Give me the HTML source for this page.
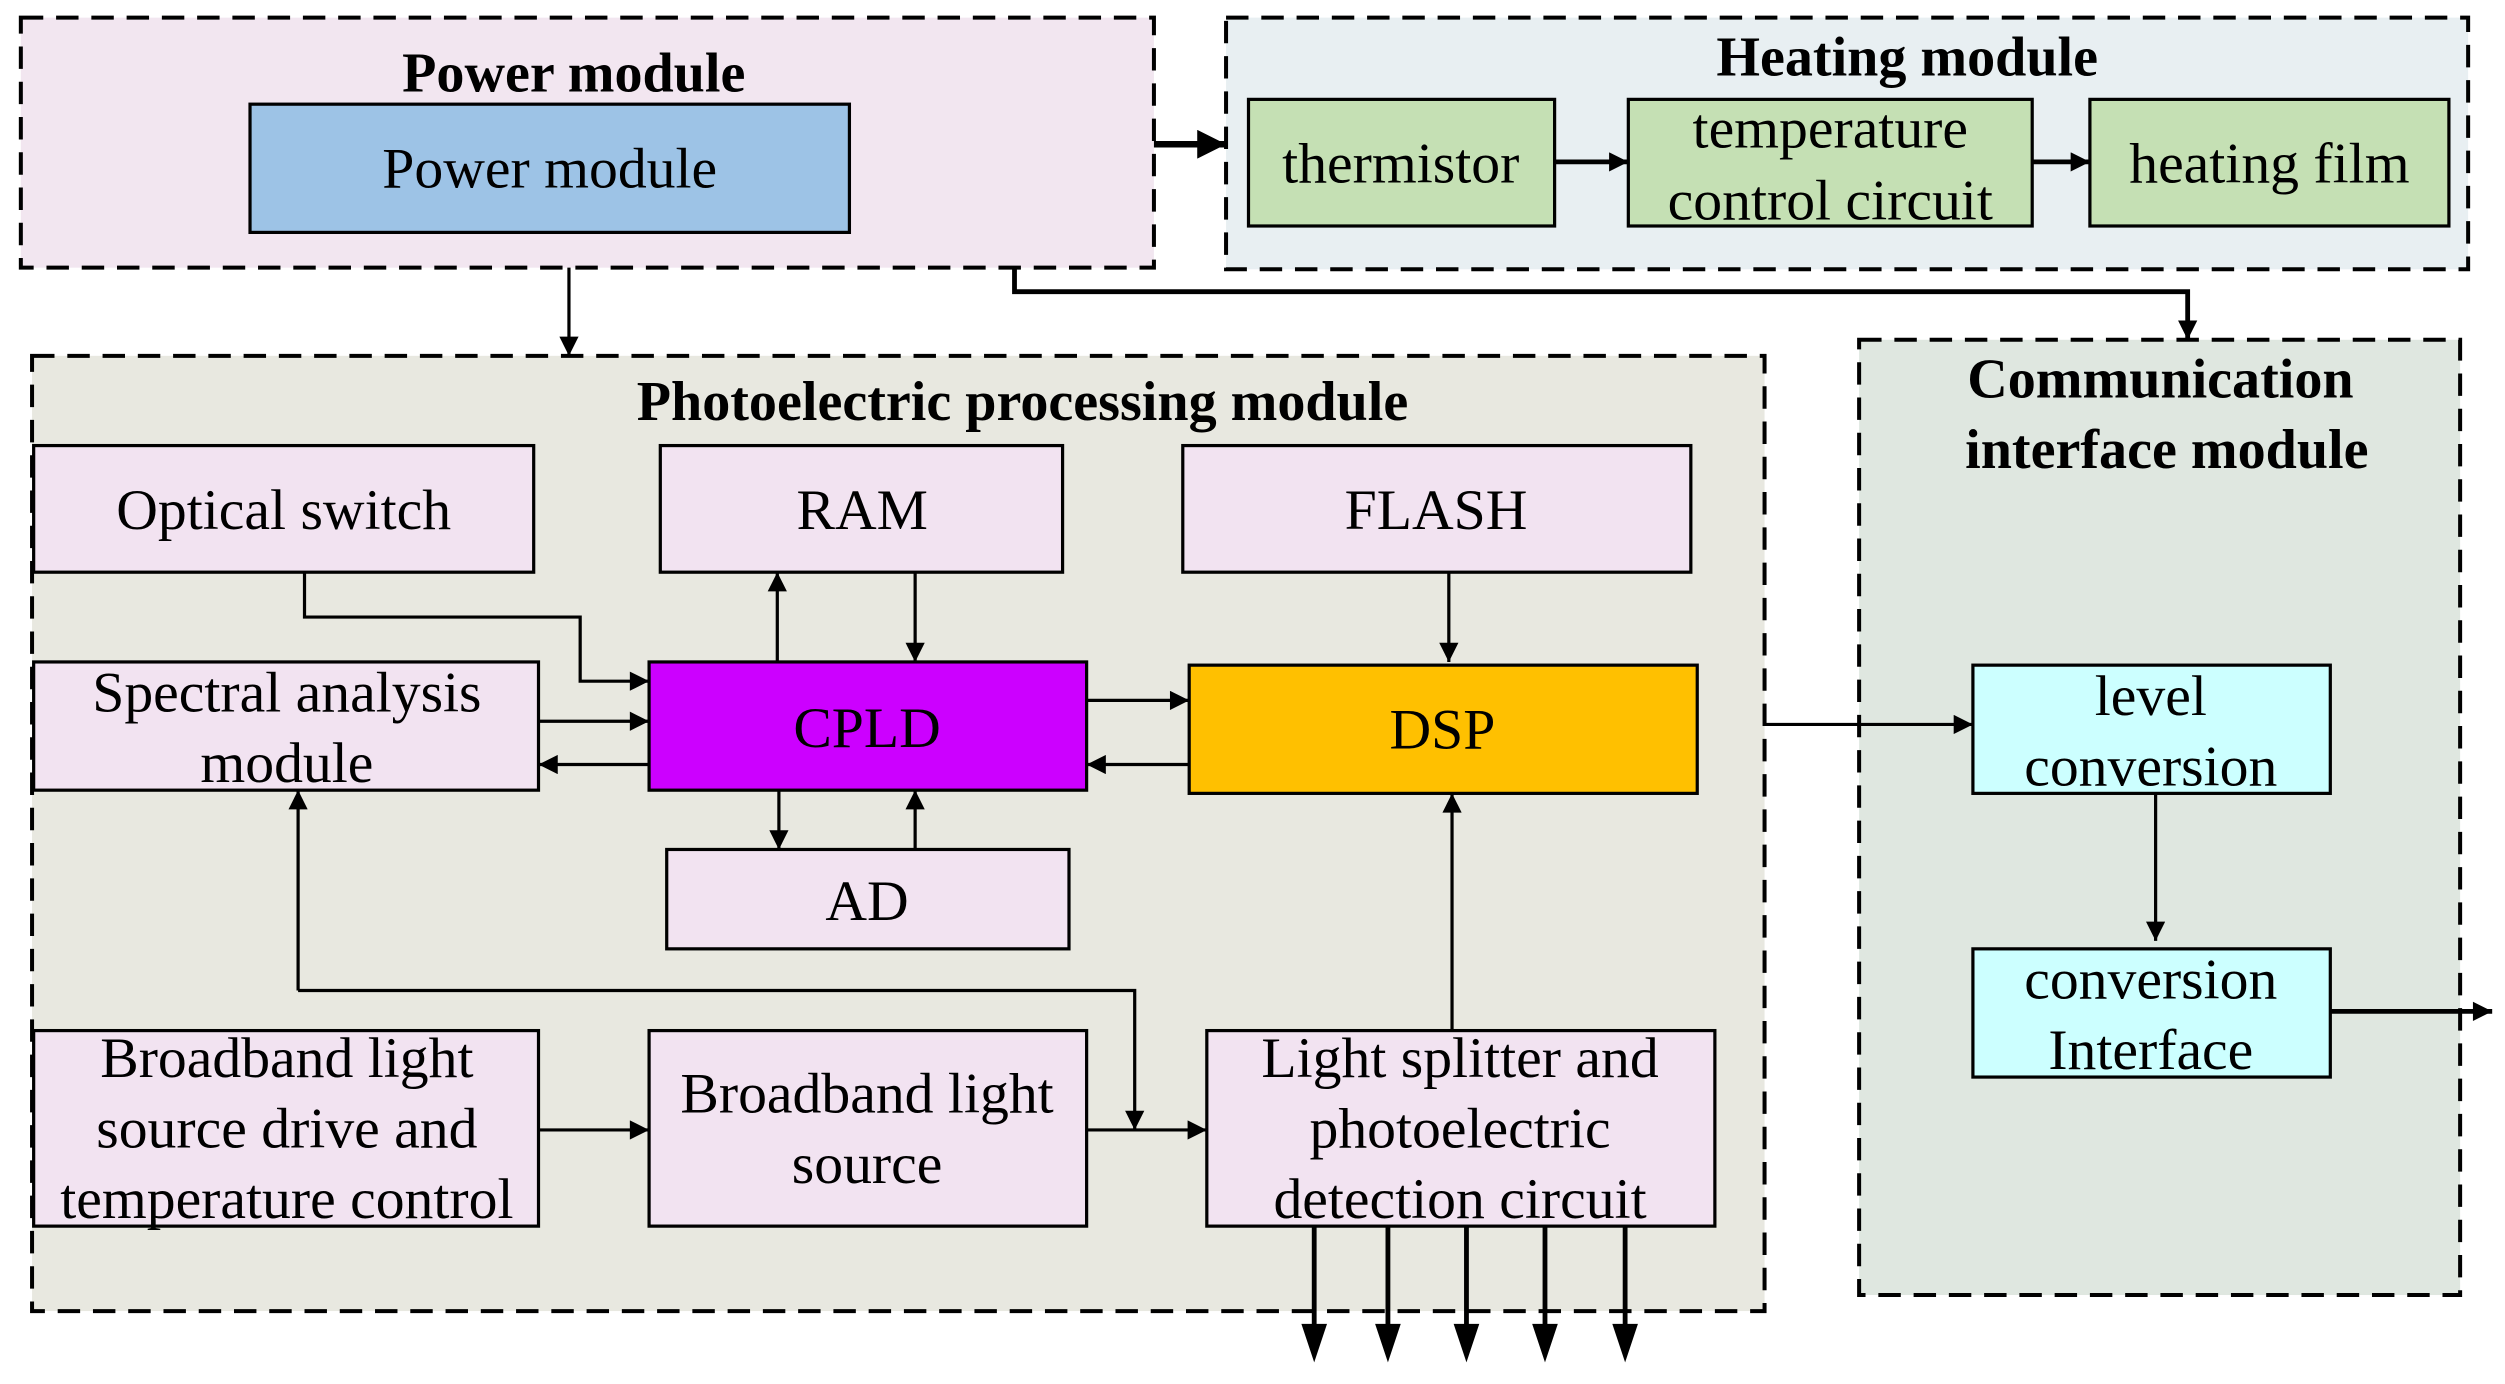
<!DOCTYPE html>
<html><head><meta charset="utf-8"><style>
html,body{margin:0;padding:0;background:#fff;width:2505px;height:1384px;overflow:hidden}
svg{display:block}
text{font-family:"Liberation Serif",serif;font-size:36px;fill:#000;text-anchor:middle}
.b{font-weight:bold;font-size:35px}
</style></head><body>
<svg width="2505" height="1384" viewBox="0 0 1563 863.5" preserveAspectRatio="none">
<defs>
<marker id="a" viewBox="0 0 10 10" refX="10" refY="5" markerWidth="16" markerHeight="12" markerUnits="userSpaceOnUse" orient="auto"><path d="M0,0 L10,5 L0,10z" fill="#000"/></marker>
<marker id="A" viewBox="0 0 10 10" refX="10" refY="5" markerWidth="24" markerHeight="18" markerUnits="userSpaceOnUse" orient="auto"><path d="M0,0 L10,5 L0,10z" fill="#000"/></marker>
</defs>
<g stroke="#000" stroke-width="2.5" stroke-dasharray="14,8">
<rect x="13" y="11" width="707" height="156" fill="#f2e6f0"/>
<rect x="765" y="11" width="775" height="157" fill="#e8eff2"/>
<rect x="20" y="222" width="1081" height="596" fill="#e8e8e0"/>
<rect x="1160" y="212" width="375" height="596" fill="#dfe7e0"/>
</g>
<g stroke="#000" stroke-width="2">
<rect x="156" y="65" width="374" height="80" fill="#9dc3e6"/>
<rect x="779" y="62" width="191" height="79" fill="#c5e0b4"/>
<rect x="1016" y="62" width="252" height="79" fill="#c5e0b4"/>
<rect x="1304" y="62" width="224" height="79" fill="#c5e0b4"/>
<rect x="21" y="278" width="312" height="79" fill="#f2e3f1"/>
<rect x="412" y="278" width="251" height="79" fill="#f2e3f1"/>
<rect x="738" y="278" width="317" height="79" fill="#f2e3f1"/>
<rect x="21" y="413" width="315" height="80" fill="#f2e3f1"/>
<rect x="405" y="413" width="273" height="80" fill="#cc00ff"/>
<rect x="742" y="415" width="317" height="80" fill="#ffc000"/>
<rect x="416" y="530" width="251" height="62" fill="#f2e3f1"/>
<rect x="21" y="643" width="315" height="122" fill="#f2e3f1"/>
<rect x="405" y="643" width="273" height="122" fill="#f2e3f1"/>
<rect x="753" y="643" width="317" height="122" fill="#f2e3f1"/>
<rect x="1231" y="415" width="223" height="80" fill="#ccffff"/>
<rect x="1231" y="592" width="223" height="80" fill="#ccffff"/>
</g>
<g stroke="#000" stroke-width="2" fill="none">
<path d="M720,90 H765" stroke-width="4" marker-end="url(#A)"/>
<path d="M970,101 H1016" stroke-width="3" marker-end="url(#a)"/>
<path d="M1268,101 H1304" stroke-width="3" marker-end="url(#a)"/>
<path d="M633,167 V182 H1365 V212" stroke-width="3" marker-end="url(#a)"/>
<path d="M355,167 V222" marker-end="url(#a)"/>
<path d="M190,357 V385 H362 V425 H405" marker-end="url(#a)"/>
<path d="M485,413 V357" marker-end="url(#a)"/>
<path d="M571,357 V413" marker-end="url(#a)"/>
<path d="M904,357 V413" marker-end="url(#a)"/>
<path d="M336,450 H405" marker-end="url(#a)"/>
<path d="M405,477 H336" marker-end="url(#a)"/>
<path d="M678,437 H742" marker-end="url(#a)"/>
<path d="M742,477 H678" marker-end="url(#a)"/>
<path d="M486,493 V530" marker-end="url(#a)"/>
<path d="M571,530 V493" marker-end="url(#a)"/>
<path d="M1101,452 H1231" marker-end="url(#a)"/>
<path d="M1345,495 V587" marker-end="url(#a)"/>
<path d="M1454,631 H1555" stroke-width="3" marker-end="url(#a)"/>
<path d="M906,643 V495" marker-end="url(#a)"/>
<path d="M186,618 V493" marker-end="url(#a)"/>
<path d="M186,618 H708 V705" marker-end="url(#a)"/>
<path d="M336,705 H405" marker-end="url(#a)"/>
<path d="M678,705 H753" marker-end="url(#a)"/>
<path d="M820,765 V830 M866,765 V830 M915,765 V830 M964,765 V830 M1014,765 V830" stroke-width="3"/>
</g>
<g fill="#000">
<path d="M812,826 L820,850 L828,826z M858,826 L866,850 L874,826z M907,826 L915,850 L923,826z M956,826 L964,850 L972,826z M1006,826 L1014,850 L1022,826z"/>
</g>
<text class="b" x="358" y="57">Power module</text>
<text x="343" y="117">Power module</text>
<text class="b" x="1190" y="47">Heating module</text>
<text x="874" y="114">thermistor</text>
<text x="1142" y="92">temperature</text>
<text x="1142" y="137">control circuit</text>
<text x="1416" y="114">heating film</text>
<text class="b" x="638" y="262">Photoelectric processing module</text>
<text class="b" x="1348" y="248">Communication</text>
<text class="b" x="1352" y="292">interface module</text>
<text x="177" y="330">Optical switch</text>
<text x="538" y="330">RAM</text>
<text x="896" y="330">FLASH</text>
<text x="179" y="444">Spectral analysis</text>
<text x="179" y="488">module</text>
<text x="541" y="466">CPLD</text>
<text x="900" y="467">DSP</text>
<text x="541" y="574">AD</text>
<text x="179" y="672">Broadband light</text>
<text x="179" y="716">source drive and</text>
<text x="179" y="760">temperature control</text>
<text x="541" y="694">Broadband light</text>
<text x="541" y="738">source</text>
<text x="911" y="672">Light splitter and</text>
<text x="911" y="716">photoelectric</text>
<text x="911" y="760">detection circuit</text>
<text x="1342" y="446">level</text>
<text x="1342" y="490">conversion</text>
<text x="1342" y="623">conversion</text>
<text x="1342" y="667">Interface</text>
</svg>
</body></html>
